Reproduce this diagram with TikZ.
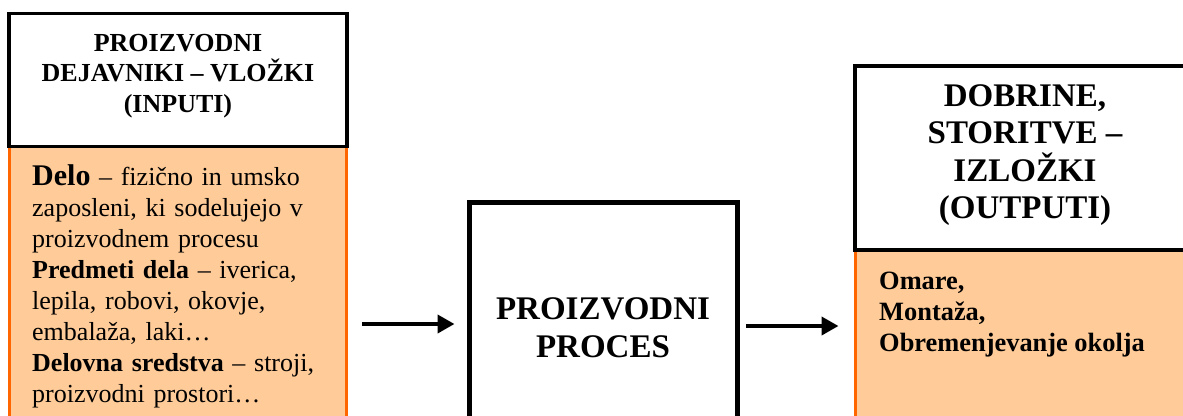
\documentclass[tikz,border=0pt]{standalone}
\usepackage{fontspec}
\setmainfont{Liberation Serif}
\usetikzlibrary{arrows.meta}
\definecolor{orfill}{HTML}{FFCC99}
\definecolor{orline}{HTML}{FF6600}
\tikzset{
  headbox/.style={draw=black, line width=3.3pt, fill=white, inner sep=0pt},
  headtext/.style={inner sep=0pt, align=center},
  bodybox/.style={draw=orline, line width=3pt, fill=orfill, inner sep=0pt},
  procbox/.style={draw=black, line width=5pt, fill=white, inner sep=0pt, align=center, font=\fontsize{33}{38}\selectfont\bfseries},
  bodytext/.style={inner sep=0pt, anchor=north west, align=left},
  arr/.style={line width=4pt, -{Triangle[length=17pt,width=18pt]}}
}
\begin{document}
\begin{tikzpicture}[x=1pt,y=-1pt]
\useasboundingbox (0,0) rectangle (1183,415);
\clip (0,0) rectangle (1183,415);
% left column
\node[bodybox, minimum width=337pt, minimum height=300pt] (inbody) at (178,296) {};
\node[headbox, minimum width=338pt, minimum height=133pt] (inhead) at (178,80) {};
\node[headtext, font=\fontsize{26}{30.5}\selectfont\bfseries] (inheadtext) at ([yshift=4pt]inhead.center)
  {PROIZVODNI\\DEJAVNIKI – VLOŽKI\\(INPUTI)};
\node[bodytext, text width=310pt, font=\fontsize{26}{31}\selectfont] (intext) at (32,164.5)
  {{\fontsize{30}{31}\selectfont\bfseries Delo} – fizično in umsko\\
   zaposleni, ki sodelujejo v\\
   proizvodnem procesu\\
   \textbf{Predmeti dela} – iverica,\\
   lepila, robovi, okovje,\\
   embalaža, laki…\\
   \textbf{Delovna sredstva} – stroji,\\
   proizvodni prostori…};
% middle
\node[procbox, minimum width=268pt, minimum height=252pt] (proc) at (603,328)
  {PROIZVODNI\\PROCES};
% right column
\node[bodybox, minimum width=340pt, minimum height=200pt] (outbody) at (1025,350) {};
\node[headbox, minimum width=340pt, minimum height=184pt] (outhead) at (1025,158) {};
\node[headtext, font=\fontsize{33}{37.5}\selectfont\bfseries] (outheadtext) at ([yshift=3pt]outhead.center)
  {DOBRINE,\\STORITVE –\\IZLOŽKI\\(OUTPUTI)};
\node[bodytext, font=\fontsize{26.4}{31}\selectfont\bfseries] (outtext) at (879,272)
  {Omare,\\Montaža,\\Obremenjevanje okolja};
% arrows
\coordinate (a1) at (362,324);
\coordinate (a2) at (746,326);
\draw[arr, shorten >=12pt] (a1) -- (a1 -| proc.west);
\draw[arr, shorten >=15pt] (a2) -- (a2 -| outbody.west);
\end{tikzpicture}
\end{document}
